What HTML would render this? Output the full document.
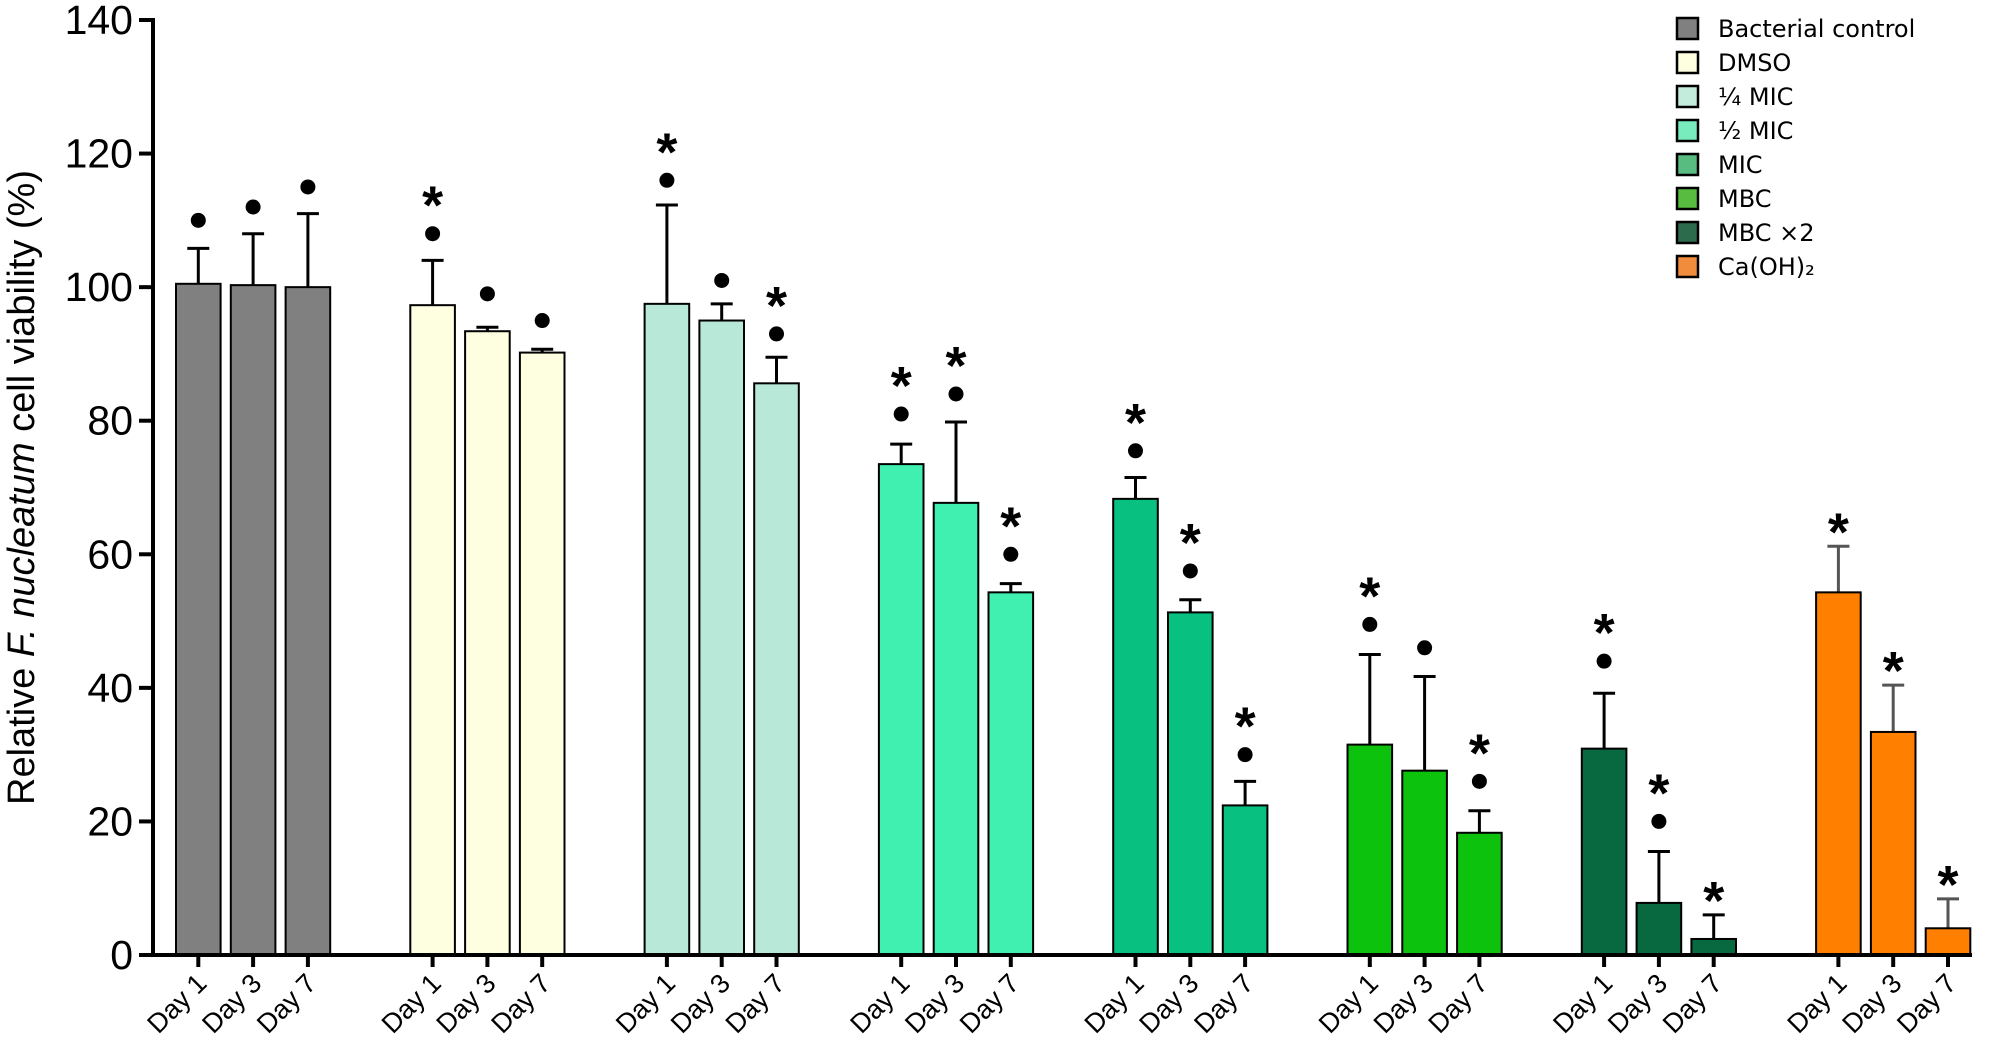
<!DOCTYPE html>
<html><head><meta charset="utf-8"><style>
html,body{margin:0;padding:0;background:#fff;}
svg{display:block;font-family:"Liberation Sans",sans-serif;}
</style></head><body>
<svg id="chart" width="2000" height="1054" viewBox="0 0 2000 1054"></svg>
<script>
const groups=["Bacterial control","DMSO","¼ MIC","½ MIC","MIC","MBC","MBC ×2","Ca(OH)₂"];
const days=["Day 1","Day 3","Day 7"];
const colors=["#808080","#fefee0","#b8e8d8","#40f0b0","#08c080","#0dc20d","#086840","#ff8000"];
const legendColors=["#808080","#fefee0","#c4ecdc","#78ecbc","#58bc80","#58bc40","#2c6c4c","#f08c3c"];
const values=[[100.5,100.3,100],[97.3,93.4,90.2],[97.5,95,85.6],[73.5,67.7,54.3],[68.3,51.3,22.4],[31.5,27.6,18.3],[30.9,7.8,2.4],[54.3,33.4,4]];
const errTop=[[105.8,108,111],[104,94,90.7],[112.3,97.5,89.5],[76.5,79.8,55.6],[71.5,53.2,26],[45,41.7,21.6],[39.2,15.5,6],[61.2,40.4,8.4]];
const dots=[[110,112,115],[108,99,95],[116,101,93],[81,84,60],[75.5,57.5,30],[49.5,46,26],[44,20,null],[null,null,null]];
const stars=[[0,0,0],[1,0,0],[1,0,1],[1,1,1],[1,1,1],[1,0,1],[1,1,1],[1,1,1]];
const yTicks=[0,20,40,60,80,100,120,140];

const NS="http://www.w3.org/2000/svg";
const svg=document.getElementById("chart");
const X0=153,Y0=955,Y140=20;
const y=v=>Y0-(v/140)*(Y0-Y140);
const barW=44.6,inStep=54.8,gStep=234.3,firstBar=176;
const bx=(g,d)=>firstBar+g*gStep+d*inStep;
function el(tag,attrs,parent){const e=document.createElementNS(NS,tag);for(const k in attrs)e.setAttribute(k,attrs[k]);(parent||svg).appendChild(e);return e;}

groups.forEach((gname,g)=>{
  days.forEach((dname,d)=>{
    const x=bx(g,d),cx=x+barW/2,v=values[g][d];
    const ec=g===7?"#555":"#000";
    const eb=el("line",{x1:cx,x2:cx,y1:y(v),y2:y(errTop[g][d]),stroke:ec,"stroke-width":3});
    
    
    const cap=el("line",{x1:cx-11,x2:cx+11,y1:y(errTop[g][d]),y2:y(errTop[g][d]),stroke:ec,"stroke-width":3});
    
    
    const r=el("rect",{x:x,y:y(v),width:barW,height:Y0-y(v),fill:colors[g],stroke:"#000","stroke-width":2});
    
    
    let top=y(errTop[g][d]);
    if(dots[g][d]!==null){
      const c=el("circle",{cx:cx,cy:y(dots[g][d]),r:7.5,fill:"#000"});
      
      
      top=y(dots[g][d])-8;
    }
    if(stars[g][d]){
      const s=el("text",{x:cx,y:top,"text-anchor":"middle","font-size":54,"font-weight":"bold"});
      s.textContent="*";
      
      
      if(dots[g][d]===null){s.setAttribute("y",top+4);}
      else s.setAttribute("y",top-2);
    }
    const tk=el("line",{x1:cx,x2:cx,y1:Y0,y2:Y0+12,stroke:"#000","stroke-width":4});
    
    
    const t=el("text",{x:0,y:0,"text-anchor":"end","font-size":27,transform:`translate(${cx+10},${Y0+30}) rotate(-45)`});
    t.textContent=dname;
    
    
  });
});

const ax=el("line",{x1:X0,x2:X0,y1:Y140-2,y2:Y0+2,stroke:"#000","stroke-width":4});


const xa=el("line",{x1:X0-2,x2:1972,y1:Y0,y2:Y0,stroke:"#000","stroke-width":4});


yTicks.forEach(v=>{
  const l=el("line",{x1:X0-14,x2:X0,y1:y(v),y2:y(v),stroke:"#000","stroke-width":4});
  
  
  const t=el("text",{x:X0-20,y:y(v)+14,"text-anchor":"end","font-size":41});
  t.textContent=v;
  
  
});
const yt=el("text",{x:0,y:0,"text-anchor":"middle","font-size":38,transform:`translate(34,${(Y0+Y140)/2}) rotate(-90)`});
yt.innerHTML='Relative <tspan font-style="italic">F. nucleatum</tspan> cell viability (%)';



groups.forEach((gname,i)=>{
  const yy=18+i*34;
  const r=el("rect",{x:1677,y:yy,width:21,height:21,fill:legendColors[i],stroke:"#000","stroke-width":2.5});
  
  
  const t=el("text",{x:1718,y:yy+19,"font-size":24,"font-family":"DejaVu Sans, sans-serif"});
  t.textContent=gname;
  
  
});
</script>
</body></html>
